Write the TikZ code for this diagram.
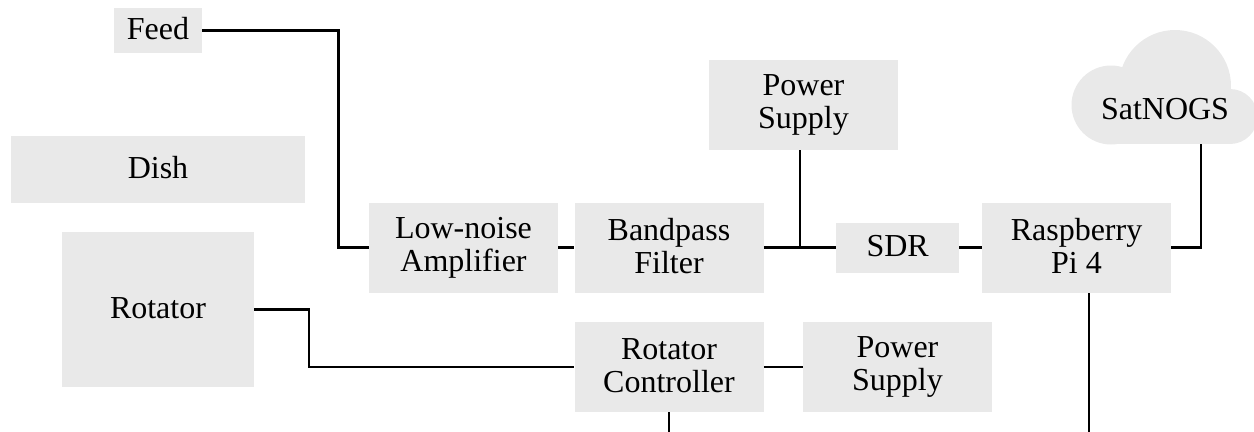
\documentclass[tikz,border=0pt]{standalone}
\usepackage{fontspec}
\setmainfont{Liberation Serif}
\definecolor{boxgray}{HTML}{E9E9E9}
\newcommand{\ls}{\rule[-2.5pt]{0pt}{18.5pt}}
\tikzset{
  block/.style={fill=boxgray,draw=none,inner sep=0pt,align=center,font=\fontsize{24}{25}\selectfont,text=black},
  wire/.style={draw=black,line width=2.15pt,line join=miter}
}
\begin{document}
\begin{tikzpicture}[x=0.75pt,y=-0.75pt]
\useasboundingbox (0,0) rectangle (1254,432);
\clip (0,0) rectangle (1254,432);
\node[block,minimum width=88*0.75pt,minimum height=45*0.75pt] (feed) at (158,30.5) {\ls Feed};
\node[block,minimum width=294*0.75pt,minimum height=67*0.75pt] (dish) at (158,169.5) {\ls Dish};
\node[block,minimum width=191.5*0.75pt,minimum height=155.5*0.75pt] (rotator) at (158,309.7) {\ls Rotator};
\node[block,minimum width=189*0.75pt,minimum height=90*0.75pt] (lna) at (463.5,247.7) {\ls Low-noise\\\ls Amplifier};
\node[block,minimum width=189*0.75pt,minimum height=90*0.75pt] (bpf) at (669,247.7) {\ls Bandpass\\\ls Filter};
\node[block,minimum width=189*0.75pt,minimum height=90*0.75pt] (ps1) at (803.5,105) {\ls Power\\\ls Supply};
\node[block,minimum width=123*0.75pt,minimum height=50*0.75pt] (sdr) at (897.7,247.7) {\ls SDR};
\node[block,minimum width=189*0.75pt,minimum height=90*0.75pt] (pi) at (1076.5,247.7) {\ls Raspberry\\\ls Pi 4};
\node[block,minimum width=189*0.75pt,minimum height=90*0.75pt] (rc) at (669,367) {\ls Rotator\\\ls Controller};
\node[block,minimum width=189*0.75pt,minimum height=90*0.75pt] (ps2) at (897.5,367) {\ls Power\\\ls Supply};
% cloud
\fill[boxgray] (1111,105) circle[radius=39.5];
\fill[boxgray] (1175,86) circle[radius=56];
\fill[boxgray] (1230,116.5) circle[radius=27.5];
\fill[boxgray] (1111,100) rectangle (1230,144);
\node[block,fill=none] (sat) at (1165,110.5) {\ls SatNOGS};
\coordinate (satb) at (1201,144);
\coordinate (psjoin) at (800,247.7);
\coordinate (ps1b) at (800,150);
\coordinate (pib) at (1089,293);
\coordinate (piend) at (1089,432);
\coordinate (rcend) at (669,432);
\draw[wire] (feed.east) -- ++(136,0) |- (lna.west);
\draw[wire] (lna.east) -- (bpf.west);
\draw[wire] (bpf.east) -- (sdr.west);
\draw[wire] (ps1b) -- (psjoin);
\draw[wire] (sdr.east) -- (pi.west);
\draw[wire] (pi.east) -| (satb);
\draw[wire] (pib) -- (piend);
\draw[wire] (rotator.east) -- ++(55,0) |- (rc.west);
\draw[wire] (rc.east) -- (ps2.west);
\draw[wire] (rc.south) -- (rcend);
\end{tikzpicture}
\end{document}
